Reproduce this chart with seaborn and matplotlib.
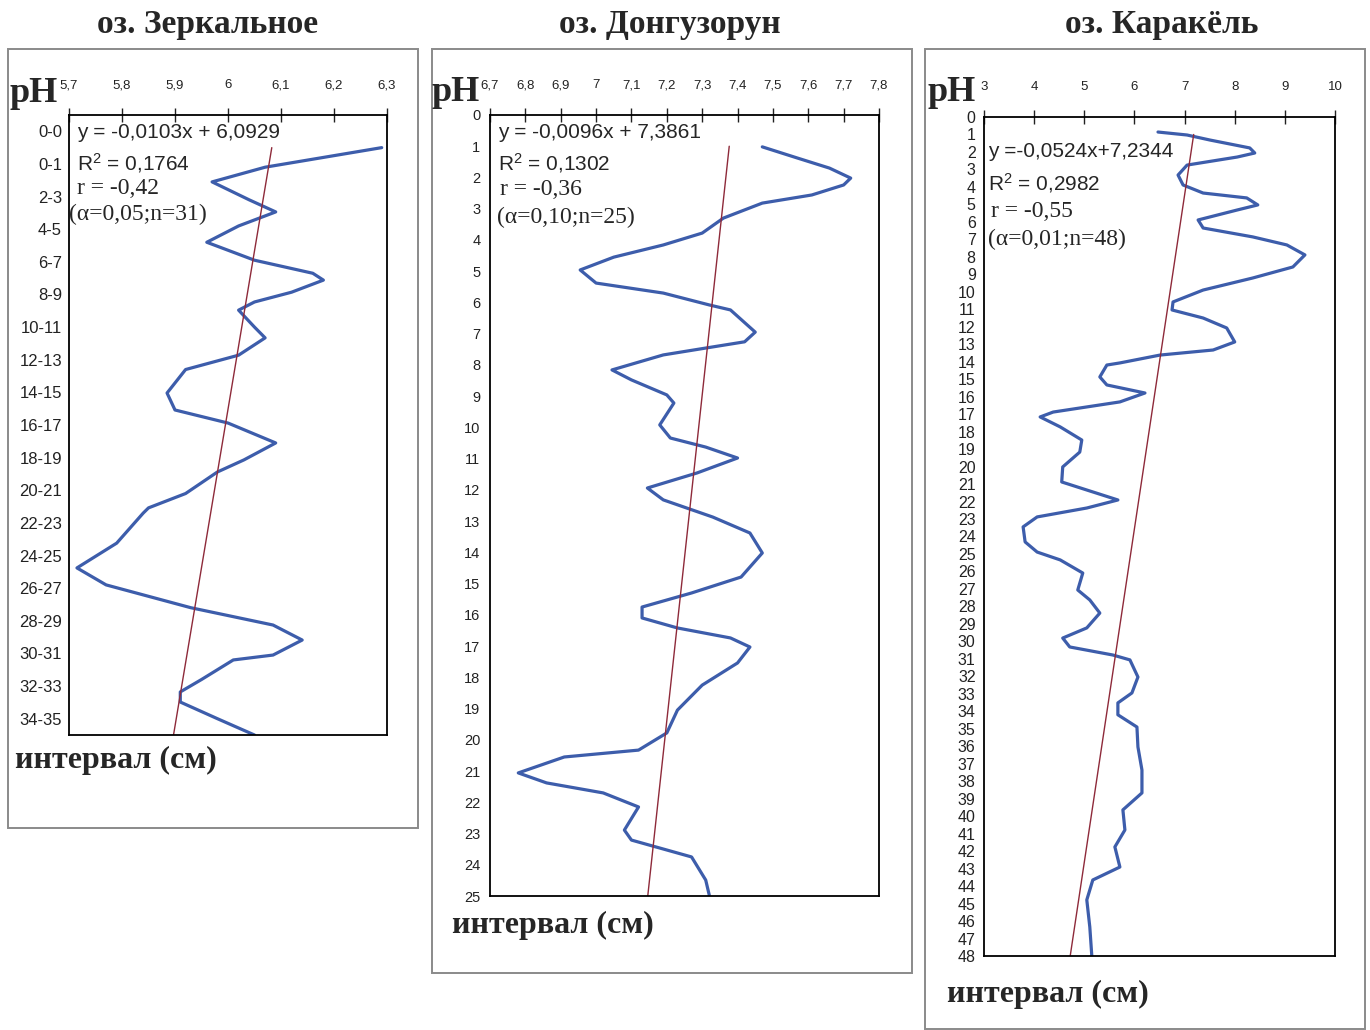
import numpy as np
import pandas as pd
import seaborn as sns
import matplotlib.pyplot as plt
from matplotlib.patches import Rectangle

# --- data (depth index, pH) ---
zerk_depth = [1.0, 1.6, 2.05, 2.6, 2.97, 3.4, 3.9, 4.45, 4.85, 5.06, 5.43, 5.73, 5.98,
              6.5, 6.83, 7.36, 7.8, 8.52, 9.04, 9.44, 10.05, 10.57, 10.94, 11.6, 12.04,
              12.2, 13.12, 13.88, 14.4, 15.1, 15.63, 16.09, 16.55, 16.7, 17.3, 17.68,
              17.99, 18.5, 19.0]
zerk_ph = [6.29, 6.07, 5.97, 6.04, 6.09, 6.02, 5.96, 6.05, 6.16, 6.18, 6.12, 6.05, 6.02,
           6.05, 6.07, 6.02, 5.92, 5.885, 5.90, 6.00, 6.09, 6.03, 5.98, 5.92, 5.85,
           5.84, 5.79, 5.715, 5.77, 5.93, 6.085, 6.14, 6.085, 6.01, 5.95, 5.91,
           5.91, 5.98, 6.05]

dong_depth = [1.02, 1.38, 1.7, 2.02, 2.24, 2.56, 2.82, 3.3, 3.78, 4.16, 4.55, 4.96, 5.38,
              5.7, 6.08, 6.24, 6.95, 7.26, 7.46, 7.68, 8.16, 8.48, 8.96, 9.22, 9.92,
              10.34, 10.63, 10.98, 11.46, 11.94, 12.32, 12.87, 13.38, 14.02, 14.79,
              15.3, 15.75, 16.1, 16.42, 16.74, 17.03, 17.54, 18.25, 19.05, 19.78,
              20.33, 20.55, 21.06, 21.38, 21.7, 22.15, 22.89, 23.21, 23.75, 24.49, 24.97]
dong_ph = [7.47, 7.57, 7.66, 7.72, 7.70, 7.61, 7.47, 7.36, 7.30, 7.19, 7.05, 6.955, 7.0,
           7.19, 7.32, 7.38, 7.45, 7.42, 7.31, 7.19, 7.045, 7.10, 7.20, 7.22, 7.18,
           7.21, 7.31, 7.40, 7.285, 7.145, 7.19, 7.33, 7.435, 7.47, 7.41,
           7.27, 7.13, 7.13, 7.23, 7.38, 7.435, 7.40, 7.30, 7.23, 7.20,
           7.12, 6.91, 6.78, 6.86, 7.02, 7.12, 7.08, 7.10, 7.27, 7.31, 7.32]

kara_depth = [0.86, 1.03, 1.32, 1.77, 2.06, 2.29, 2.75, 3.32, 3.89, 4.35, 4.63, 5.03, 5.32,
              5.89, 6.35, 6.86, 7.32, 7.89, 8.58, 9.21, 9.9, 10.58, 11.04, 11.5, 12.07,
              12.87, 13.33, 13.62, 14.07, 14.19, 14.87, 15.33, 15.79, 16.3, 16.88, 17.16,
              17.73, 18.48, 19.17, 20.02, 20.88, 21.34, 21.91, 22.37, 22.88, 23.45, 24.31,
              24.89, 25.34, 26.09, 27.06, 27.63, 28.38, 29.23, 29.81, 30.32, 30.78, 31.06,
              32.04, 32.95, 33.52, 34.2, 34.9, 36.04, 37.36, 38.67, 39.64, 40.79, 41.76,
              42.91, 43.65, 44.79, 46.34, 48.0]
kara_ph = [6.47, 7.05, 7.51, 8.3, 8.4, 8.05, 7.05, 6.87, 6.97, 7.37, 8.24, 8.46, 8.05,
           7.27, 7.37, 8.36, 9.04, 9.4, 9.16, 8.36, 7.37, 6.77, 6.75, 7.37, 7.84,
           8.0, 7.57, 6.51, 5.71, 5.45, 5.31, 5.45, 6.21, 5.71, 4.38, 4.12,
           4.52, 4.95, 4.91, 4.57, 4.55, 5.05, 5.67, 5.05, 4.06, 3.78, 3.82,
           4.06, 4.52, 4.97, 4.87, 5.11, 5.31, 5.05, 4.57, 4.71, 5.57, 5.91,
           6.07, 5.95, 5.67, 5.67, 6.05, 6.07, 6.15, 6.15, 5.77, 5.81, 5.61,
           5.71, 5.17, 5.05, 5.11, 5.15]

titles = ["оз. Зеркальное", "оз. Донгузорун", "оз. Каракёль"]
zerk_ylabels = ["0-0", "0-1", "2-3", "4-5", "6-7", "8-9", "10-11", "12-13", "14-15",
                "16-17", "18-19", "20-21", "22-23", "24-25", "26-27", "28-29", "30-31",
                "32-33", "34-35"]
zerk_xticks = [5.7, 5.8, 5.9, 6.0, 6.1, 6.2, 6.3]
zerk_xlabels = ["5,7", "5,8", "5,9", "6", "6,1", "6,2", "6,3"]
dong_xticks = [6.7, 6.8, 6.9, 7.0, 7.1, 7.2, 7.3, 7.4, 7.5, 7.6, 7.7, 7.8]
dong_xlabels = ["6,7", "6,8", "6,9", "7", "7,1", "7,2", "7,3", "7,4", "7,5", "7,6", "7,7", "7,8"]
kara_xticks = [3, 4, 5, 6, 7, 8, 9, 10]
kara_xlabels = ["3", "4", "5", "6", "7", "8", "9", "10"]

slopes = [-0.0103, -0.0096, -0.0524]
intercepts = [6.0929, 7.3861, 7.2344]
eq_text = ["y = -0,0103x + 6,0929", "y = -0,0096x + 7,3861", "y =-0,0524x+7,2344"]
r2_text = ["R$^{2}$ = 0,1764", "R$^{2}$ = 0,1302", "R$^{2}$ = 0,2982"]
r_text = ["r = -0,42", "r = -0,36", "r = -0,55"]
n_text = ["(α=0,05;n=31)", "(α=0,10;n=25)", "(α=0,01;n=48)"]

# --- styling ---
sns.set_style("white")
plt.rcParams['font.family'] = ['Liberation Sans', 'DejaVu Sans']
plt.rcParams['mathtext.fontset'] = 'custom'
plt.rcParams['mathtext.rm'] = 'Liberation Sans'
plt.rcParams['mathtext.it'] = 'Liberation Sans'

W, H = 1370, 1030
fig = plt.figure(figsize=(13.7, 10.3), dpi=100)


def fx(x):
    return x / W


def fy(y):
    return 1 - y / H


CURVE = "#3d5dab"
TREND = "#8e2a3a"
SERIF = ['Liberation Serif', 'DejaVu Serif']

panels = [
    dict(box=(8, 49, 418, 828), ax=(69, 115, 387, 735), title_x=208,
         depth=zerk_depth, ph=zerk_ph, xlim=(5.7, 6.3), xticks=zerk_xticks,
         xlabels=zerk_xlabels, ymax=19, ph_pos=(9, 102), int_pos=(15, 768),
         text_x=(77, 77, 77, 69), text_y=(138, 170, 194, 220)),
    dict(box=(432, 49, 912, 973), ax=(490, 115, 879, 896), title_x=670,
         depth=dong_depth, ph=dong_ph, xlim=(6.7, 7.8), xticks=dong_xticks,
         xlabels=dong_xlabels, ymax=25, ph_pos=(432, 101), int_pos=(452, 933),
         text_x=(498, 498, 500, 497), text_y=(138, 170, 195, 223)),
    dict(box=(925, 49, 1365, 1029), ax=(984, 117, 1335, 956), title_x=1162,
         depth=kara_depth, ph=kara_ph, xlim=(3, 10), xticks=kara_xticks,
         xlabels=kara_xlabels, ymax=48, ph_pos=(928, 101), int_pos=(947, 1002),
         text_x=(988, 988, 991, 988), text_y=(157, 190, 217, 245)),
]

for i, p in enumerate(panels):
    bx0, by0, bx1, by1 = p['box']
    fig.patches.append(Rectangle((fx(bx0), fy(by1)), fx(bx1) - fx(bx0), fy(by0) - fy(by1),
                                 transform=fig.transFigure, fill=False,
                                 edgecolor="#8a8a8a", linewidth=1.4))
    fig.text(fx(p['title_x']), fy(33), titles[i], family=SERIF, fontweight='bold',
             fontsize=24, ha='center', va='baseline')
    fig.text(fx(p['ph_pos'][0]), fy(p['ph_pos'][1]), "pH", family=SERIF,
             fontweight='bold', fontsize=26, ha='left', va='baseline')
    fig.text(fx(p['int_pos'][0]), fy(p['int_pos'][1]), "интервал (см)", family=SERIF,
             fontweight='bold', fontsize=23, ha='left', va='baseline')

    x0, y0, x1, y1 = p['ax']
    ax = fig.add_axes([fx(x0), fy(y1), fx(x1) - fx(x0), fy(y0) - fy(y1)])

    df = pd.DataFrame({'depth': p['depth'], 'pH': p['ph']})
    sns.lineplot(data=df, x='pH', y='depth', sort=False, estimator=None,
                 color=CURVE, linewidth=2.3, ax=ax)

    trend = pd.DataFrame({'depth': [1, p['ymax']]})
    trend['pH'] = intercepts[i] + slopes[i] * trend['depth']
    sns.lineplot(data=trend, x='pH', y='depth', sort=False, estimator=None,
                 color=TREND, linewidth=1.0, ax=ax)

    ax.set_xlim(*p['xlim'])
    ax.set_ylim(p['ymax'], 0)
    ax.set_xlabel("")
    ax.set_ylabel("")
    ax.xaxis.tick_top()
    ax.set_xticks(p['xticks'])
    ax.set_xticklabels(p['xlabels'])
    ax.tick_params(axis='x', which='major', direction='inout', length=10, width=1,
                   labelsize=9.5, pad=12, colors='#222222')

    if i == 0:
        ax.set_yticks(range(0, 20))
        ax.set_yticklabels([])
        ax.set_yticks([k + 0.5 for k in range(19)], minor=True)
        ax.set_yticklabels(zerk_ylabels, minor=True)
        ax.tick_params(axis='y', which='major', direction='out', length=6, width=1)
        ax.tick_params(axis='y', which='minor', length=0, labelsize=12, pad=5,
                       colors='#222222')
    else:
        ax.set_yticks(range(0, p['ymax'] + 1))
        ax.tick_params(axis='y', direction='inout', length=12 if i == 1 else 10, width=1,
                       labelsize=10.5 if i == 1 else 11.5, pad=1, colors='#222222')

    for s in ax.spines.values():
        s.set_color('black')
        s.set_linewidth(1.3)

    tx, ty = p['text_x'], p['text_y']
    fig.text(fx(tx[0]), fy(ty[0]), eq_text[i], fontsize=15, va='baseline')
    fig.text(fx(tx[1]), fy(ty[1]), r2_text[i], fontsize=15, va='baseline')
    fig.text(fx(tx[2]), fy(ty[2]), r_text[i], family=SERIF, fontsize=17, va='baseline')
    fig.text(fx(tx[3]), fy(ty[3]), n_text[i], family=SERIF, fontsize=17, va='baseline')

fig.savefig("out.png", dpi=100)
